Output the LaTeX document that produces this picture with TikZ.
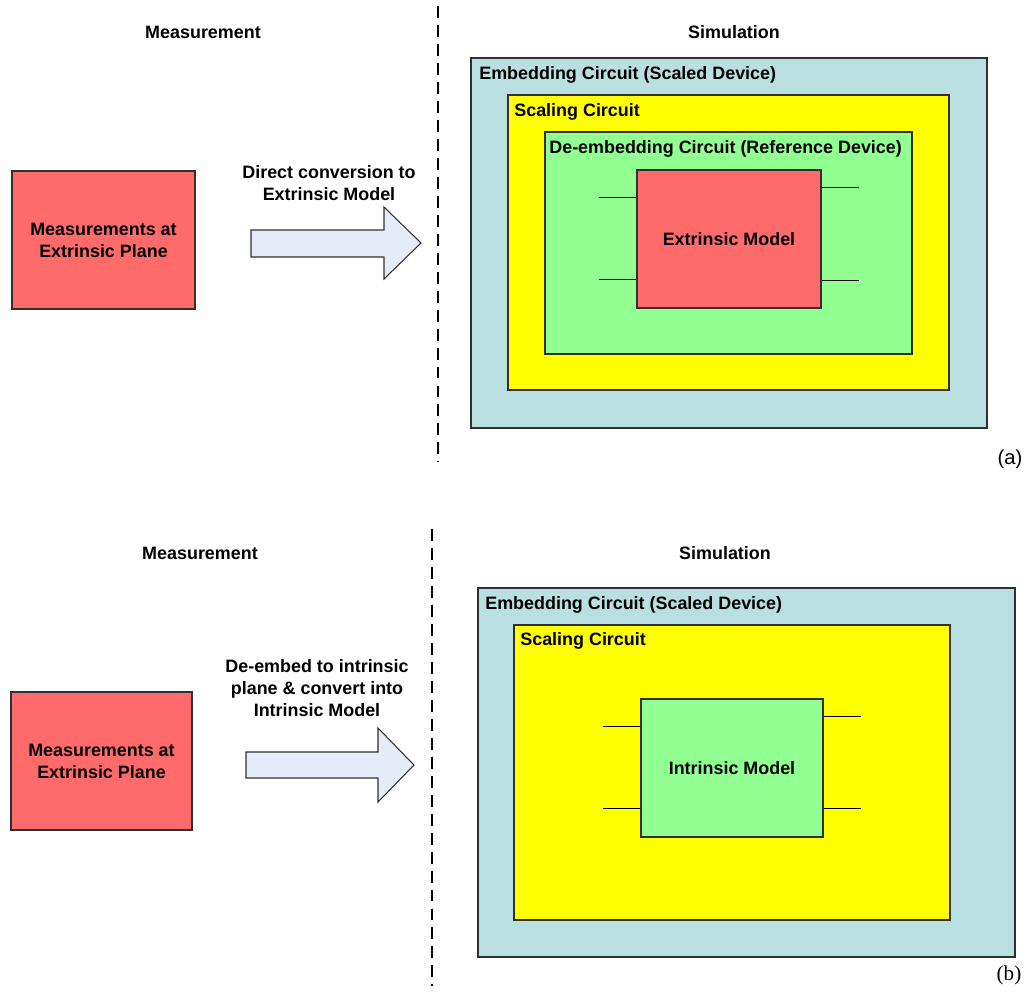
\documentclass[tikz,border=0pt]{standalone}
\usepackage{fontspec}
\setmainfont{Liberation Sans}
\newfontfamily\capserif{Liberation Serif}
\usetikzlibrary{fit,calc}
\definecolor{measred}{HTML}{FF6B6B}
\definecolor{embblue}{HTML}{B9DFE0}
\definecolor{scalyellow}{HTML}{FFFF00}
\definecolor{deembgreen}{HTML}{91FF91}
\definecolor{arrowfill}{HTML}{E6ECF7}
\definecolor{edge}{HTML}{303030}
\tikzset{
  blk/.style={draw=edge, line width=0.6pt, inner sep=0pt},
  boxtext/.style={font=\fontsize{10.2}{12.5}\selectfont\bfseries, align=center, inner sep=0pt},
  cornerlabel/.style={boxtext, anchor=west},
  portline/.style={draw=black, line width=0.95pt},
  sepline/.style={draw=black, line width=0.9pt, dash pattern=on 6.8pt off 4pt},
  bigarrow/.style={draw=edge, line width=0.6pt, fill=arrowfill},
}
\begin{document}
\begin{tikzpicture}[x=0.02cm, y=-0.02cm]
\useasboundingbox (0,0) rectangle (1031,992);

% ---------- (a) direct extrinsic modelling ----------
\node[boxtext] (measA) at (203,32) {Measurement};
\node[boxtext] (simA) at (734,32) {Simulation};
\coordinate (sepAtop) at (438,6);
\coordinate (sepAbot) at (438,462);
\draw[sepline] (sepAtop) -- (sepAbot);

\node[blk, fill=measred, fit={(12,171) (195,309)}] (mboxA) {};
\node[boxtext] (mtextA) at (mboxA.center) {Measurements at\\Extrinsic Plane};

\node[boxtext] (convA) at (329,183) {Direct conversion to\\Extrinsic Model};
\draw[bigarrow] (251,230) -- (384,230) -- (384,207) -- (421,243) -- (384,279)
  -- (384,257) -- (251,257) -- cycle;

\node[blk, fill=embblue, fit={(471,58) (987,428)}] (embA) {};
\node[blk, fill=scalyellow, fit={(508,95) (949,390)}] (scalA) {};
\node[blk, fill=deembgreen, fit={(545,132) (912,354)}] (deembA) {};
\node[blk, fill=measred, fit={(637,170) (821,308)}] (extA) {};
\node[cornerlabel] (embAlab) at (479,75) {Embedding Circuit (Scaled Device)};
\node[cornerlabel] (scalAlab) at (514,112) {Scaling Circuit};
\node[cornerlabel] (deembAlab) at (549,149) {De-embedding Circuit (Reference Device)};
\node[boxtext] (extAlab) at (extA.center) {Extrinsic Model};
\draw[portline] ($(extA.north west)+(0,28)$) -- ++(-37,0);
\draw[portline] ($(extA.north west)+(0,110)$) -- ++(-37,0);
\draw[portline] ($(extA.north east)+(0,18)$) -- ++(37,0);
\draw[portline] ($(extA.north east)+(0,111)$) -- ++(37,0);

\node[font=\fontsize{11.5}{13}\selectfont] (capA) at (1010,459) {(a)};

% ---------- (b) de-embedding to intrinsic model ----------
\node[boxtext] (measB) at (200,553) {Measurement};
\node[boxtext] (simB) at (725,553) {Simulation};
\coordinate (sepBtop) at (432,529);
\coordinate (sepBbot) at (432,986);
\draw[sepline] (sepBtop) -- (sepBbot);

\node[blk, fill=measred, fit={(11,692) (192,830)}] (mboxB) {};
\node[boxtext] (mtextB) at (mboxB.center) {Measurements at\\Extrinsic Plane};

\node[boxtext] (convB) at (317,688) {De-embed to intrinsic\\plane \& convert into\\Intrinsic Model};
\draw[bigarrow] (246,752) -- (378,752) -- (378,728) -- (414,765) -- (378,802)
  -- (378,778) -- (246,778) -- cycle;

\node[blk, fill=embblue, fit={(478,588) (1015,957)}] (embB) {};
\node[blk, fill=scalyellow, fit={(514,625) (950,920)}] (scalB) {};
\node[blk, fill=deembgreen, fit={(641,699) (823,837)}] (intB) {};
\node[cornerlabel] (embBlab) at (485,605) {Embedding Circuit (Scaled Device)};
\node[cornerlabel] (scalBlab) at (520,641) {Scaling Circuit};
\node[boxtext] (intBlab) at (intB.center) {Intrinsic Model};
\draw[portline] ($(intB.north west)+(0,28)$) -- ++(-37,0);
\draw[portline] ($(intB.north west)+(0,110)$) -- ++(-37,0);
\draw[portline] ($(intB.north east)+(0,18)$) -- ++(37,0);
\draw[portline] ($(intB.north east)+(0,110)$) -- ++(37,0);

\node[font=\capserif\fontsize{12}{14}\selectfont] (capB) at (1009,975) {(b)};
\end{tikzpicture}
\end{document}
